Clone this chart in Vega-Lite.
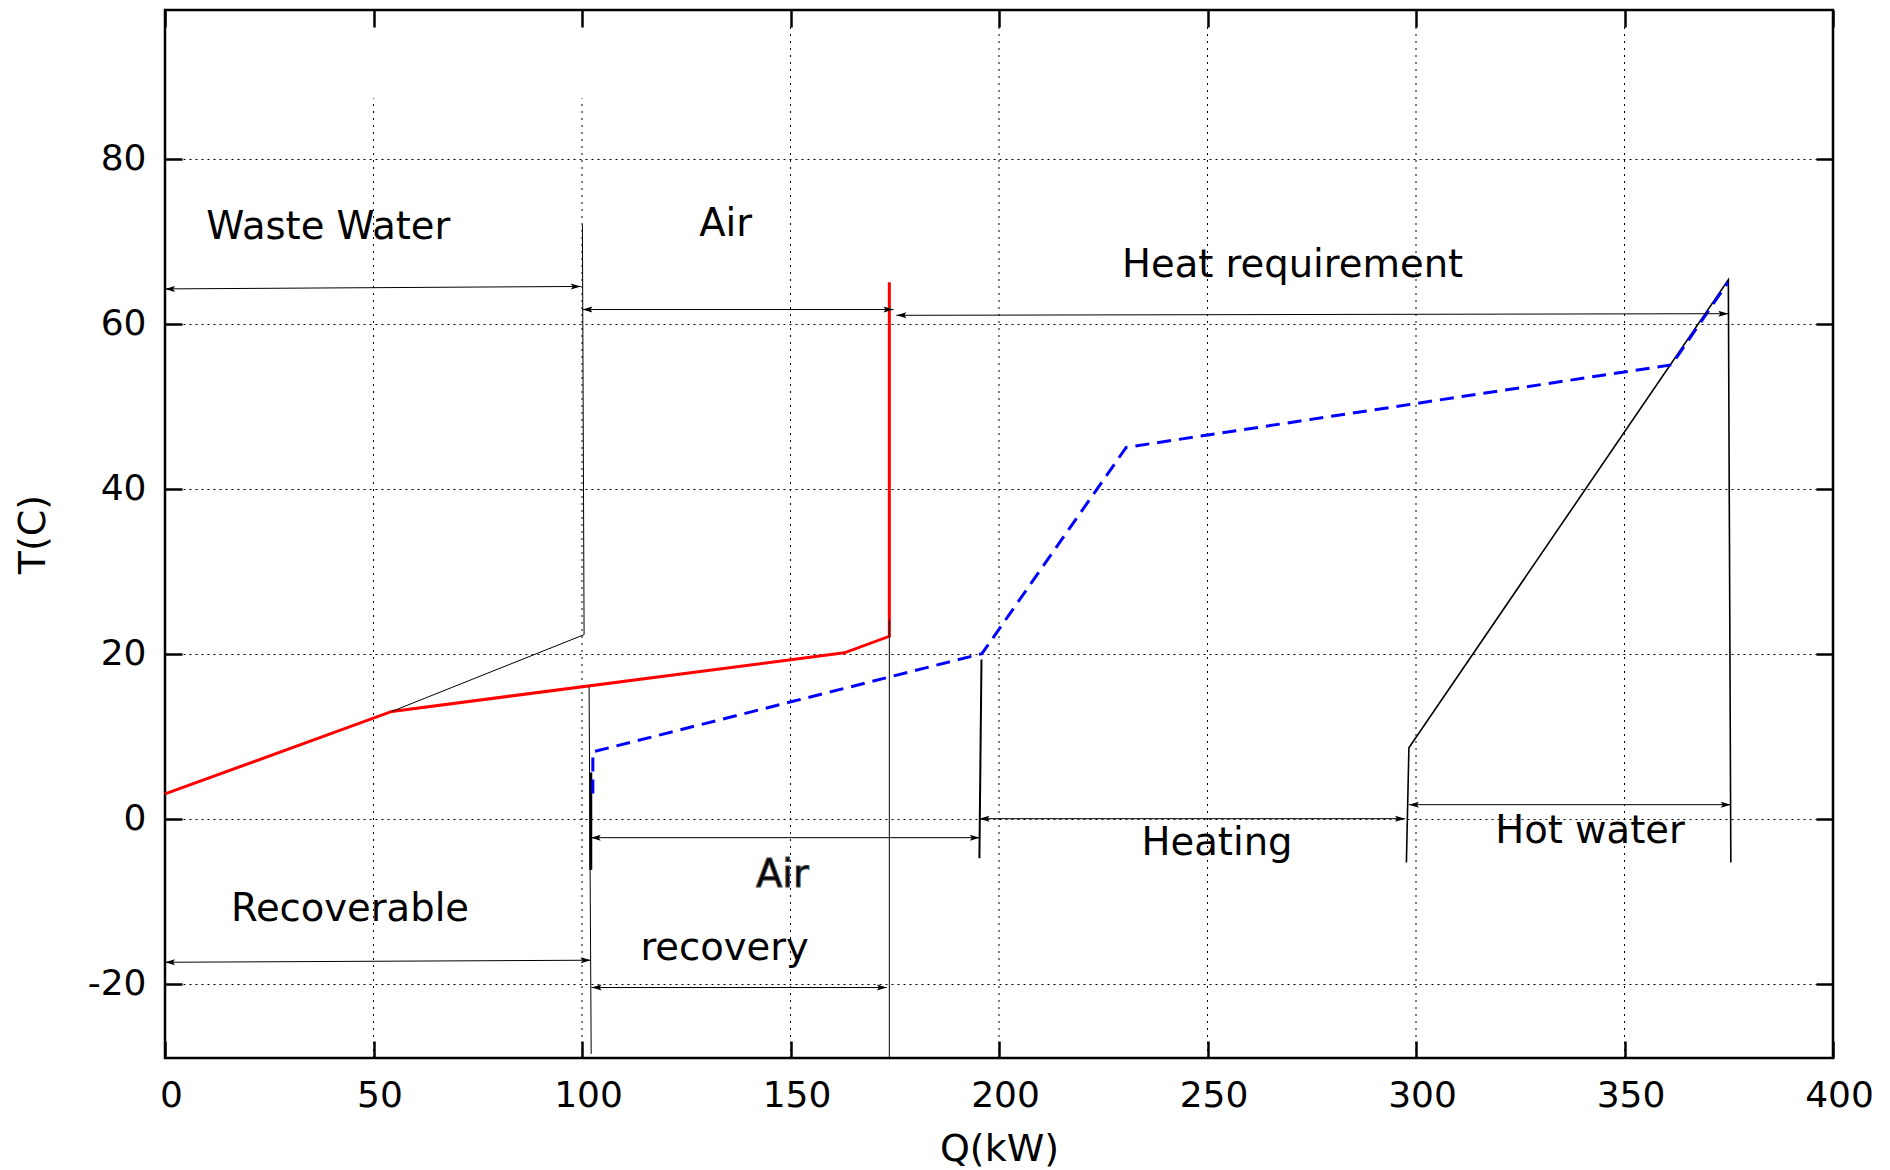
{
  "$schema": "https://vega.github.io/schema/vega-lite/v6.json",
  "width": 1668,
  "height": 1048,
  "autosize": {"type": "none"},
  "padding": {"left": 165, "top": 10, "right": 57, "bottom": 112},
  "background": "white",
  "config": {
    "view": {"stroke": "black", "strokeWidth": 2.5},
    "axis": {"labelFont": "DejaVu Sans", "titleFont": "DejaVu Sans", "labelColor": "black", "titleColor": "black", "tickColor": "black", "titleFontWeight": "normal", "domain": false, "labelFlush": false, "labelOverlap": false}
  },
  "datasets": {
    "vgrid": [
      {"q": 50, "y1": -29, "y2": 87.3},
      {"q": 100, "y1": -29, "y2": 87.3},
      {"q": 150, "y1": -29, "y2": 96},
      {"q": 200, "y1": -29, "y2": 96},
      {"q": 250, "y1": -29, "y2": 96},
      {"q": 300, "y1": -29, "y2": 96},
      {"q": 350, "y1": -29, "y2": 96}
    ],
    "red": [
      {"o": 1, "q": 0, "t": 3},
      {"o": 2, "q": 54.4, "t": 13},
      {"o": 3, "q": 162.9, "t": 20.1},
      {"o": 4, "q": 173.7, "t": 22.1},
      {"o": 5, "q": 173.7, "t": 65}
    ],
    "blue": [
      {"o": 1, "q": 102.6, "t": 3.05},
      {"o": 2, "q": 102.6, "t": 8.1},
      {"o": 3, "q": 195.9, "t": 20},
      {"o": 4, "q": 230.5, "t": 45},
      {"o": 5, "q": 361.3, "t": 55},
      {"o": 6, "q": 374.8, "t": 65}
    ],
    "thin": [
      {"s": "ww", "o": 1, "q": 54.4, "t": 13},
      {"s": "ww", "o": 2, "q": 100.5, "t": 22.3},
      {"s": "ww", "o": 3, "q": 100.1, "t": 72},
      {"s": "v173", "o": 1, "q": 173.7, "t": 24.1},
      {"s": "v173", "o": 2, "q": 173.7, "t": -29},
      {"s": "v102", "o": 1, "q": 101.7, "t": 16},
      {"s": "v102", "o": 2, "q": 102.2, "t": -28.5}
    ],
    "hw": [
      {"o": 1, "q": 297.7, "t": -5.3},
      {"o": 2, "q": 298.3, "t": 8.6},
      {"o": 3, "q": 374.9, "t": 65.3},
      {"o": 4, "q": 375.5, "t": -5.3}
    ],
    "v195": [
      {"o": 1, "q": 195.8, "t": 19.3},
      {"o": 2, "q": 195.3, "t": -4.8}
    ],
    "v102b": [
      {"o": 1, "q": 102.1, "t": 5.6},
      {"o": 2, "q": 102.1, "t": -6.2}
    ],
    "arrows": [
      {"name": "Waste Water", "x1": 0, "y1": 64.2, "x2": 99.7, "y2": 64.5},
      {"name": "Air", "x1": 100.1, "y1": 61.7, "x2": 174.7, "y2": 61.7},
      {"name": "Heat requirement", "x1": 175.4, "y1": 61.0, "x2": 374.9, "y2": 61.2},
      {"name": "Recoverable", "x1": 0, "y1": -17.4, "x2": 102.1, "y2": -17.15},
      {"name": "Air recovery (upper)", "x1": 102.1, "y1": -2.3, "x2": 195.4, "y2": -2.3},
      {"name": "Heating", "x1": 195.3, "y1": 0, "x2": 297.4, "y2": 0},
      {"name": "Hot water", "x1": 298.3, "y1": 1.7, "x2": 375.5, "y2": 1.7},
      {"name": "Air recovery (lower)", "x1": 102.3, "y1": -20.46, "x2": 173.1, "y2": -20.46}
    ],
    "labels": [
      {"text": "Waste Water", "q": 9.9, "t": 70.2},
      {"text": "Air", "q": 128.1, "t": 70.6},
      {"text": "Heat requirement", "q": 229.5, "t": 65.6},
      {"text": "Recoverable", "q": 15.8, "t": -12.4},
      {"text": "recovery", "q": 114.0, "t": -17.15},
      {"text": "Heating", "q": 234.2, "t": -4.36},
      {"text": "Hot water", "q": 319.0, "t": -2.96}
    ],
    "boldlabels": [
      {"text": "Air", "q": 141.7, "t": -8.27}
    ]
  },
  "resolve": {"axis": {"x": "independent", "y": "independent"}},
  "layer": [
    {
      "data": {"name": "vgrid"},
      "mark": {"type": "rule", "color": "black", "strokeWidth": 1, "strokeDash": [2, 5]},
      "encoding": {
        "x": {"field": "q", "type": "quantitative", "scale": {"domain": [0, 400], "nice": false, "zero": false},
          "axis": {"orient": "bottom", "values": [0, 50, 100, 150, 200, 250, 300, 350, 400], "tickSize": -17, "tickWidth": 2.5, "labelFontSize": 36, "labelPadding": 37, "labelOffset": 6, "grid": false,
            "title": "Q(kW)", "titleFontSize": 38, "titleX": 834, "titleY": 102, "titleBaseline": "alphabetic", "titleAlign": "center", "titleAnchor": null}},
        "y": {"field": "y1", "type": "quantitative", "scale": {"domain": [-29, 98], "nice": false, "zero": false},
          "axis": {"orient": "left", "values": [-20, 0, 20, 40, 60, 80], "labelExpr": "toString(datum.value)", "tickSize": -17, "tickWidth": 2.5, "labelFontSize": 36, "labelPadding": 36, "grid": true, "gridColor": "black", "gridWidth": 1, "gridDash": [2, 4],
            "title": "T(C)", "titleFontSize": 38, "titleAngle": 270, "titleX": -121, "titleY": 524, "titleAlign": "center", "titleBaseline": "alphabetic"}},
        "y2": {"field": "y2"}
      }
    },
    {
      "data": {"name": "red"},
      "mark": {"type": "line", "color": "#ff0000", "strokeWidth": 3},
      "encoding": {
        "x": {"field": "q", "type": "quantitative", "axis": {"orient": "top", "values": [0, 50, 100, 150, 200, 250, 300, 350, 400], "tickSize": -17, "tickWidth": 2.5, "labels": false, "title": null, "grid": false}},
        "y": {"field": "t", "type": "quantitative", "axis": {"orient": "right", "values": [-20, 0, 20, 40, 60, 80], "tickSize": -17, "tickWidth": 2.5, "labels": false, "title": null, "grid": false}},
        "order": {"field": "o", "type": "quantitative"}
      }
    },
    {
      "data": {"name": "thin"},
      "mark": {"type": "line", "color": "black", "strokeWidth": 1},
      "encoding": {
        "x": {"field": "q", "type": "quantitative", "axis": null},
        "y": {"field": "t", "type": "quantitative", "axis": null},
        "detail": {"field": "s"},
        "order": {"field": "o", "type": "quantitative"}
      }
    },
    {
      "data": {"name": "hw"},
      "mark": {"type": "line", "color": "black", "strokeWidth": 1.6},
      "encoding": {
        "x": {"field": "q", "type": "quantitative", "axis": null},
        "y": {"field": "t", "type": "quantitative", "axis": null},
        "order": {"field": "o", "type": "quantitative"}
      }
    },
    {
      "data": {"name": "v195"},
      "mark": {"type": "line", "color": "black", "strokeWidth": 2},
      "encoding": {
        "x": {"field": "q", "type": "quantitative", "axis": null},
        "y": {"field": "t", "type": "quantitative", "axis": null},
        "order": {"field": "o", "type": "quantitative"}
      }
    },
    {
      "data": {"name": "v102b"},
      "mark": {"type": "line", "color": "black", "strokeWidth": 3},
      "encoding": {
        "x": {"field": "q", "type": "quantitative", "axis": null},
        "y": {"field": "t", "type": "quantitative", "axis": null},
        "order": {"field": "o", "type": "quantitative"}
      }
    },
    {
      "data": {"name": "blue"},
      "mark": {"type": "line", "color": "#0000ff", "strokeWidth": 3, "strokeDash": [14, 8]},
      "encoding": {
        "x": {"field": "q", "type": "quantitative", "axis": null},
        "y": {"field": "t", "type": "quantitative", "axis": null},
        "order": {"field": "o", "type": "quantitative"}
      }
    },
    {
      "data": {"name": "arrows"},
      "mark": {"type": "rule", "color": "black", "strokeWidth": 1},
      "encoding": {
        "x": {"field": "x1", "type": "quantitative", "axis": null},
        "x2": {"field": "x2"},
        "y": {"field": "y1", "type": "quantitative", "axis": null},
        "y2": {"field": "y2"}
      }
    },
    {
      "data": {"name": "arrows"},
      "mark": {"type": "point", "shape": "M0,0L2,-0.6L1.6,0L2,0.6Z", "filled": true, "color": "black", "size": 100, "strokeWidth": 0, "opacity": 1},
      "encoding": {
        "x": {"field": "x1", "type": "quantitative", "axis": null},
        "y": {"field": "y1", "type": "quantitative", "axis": null}
      }
    },
    {
      "data": {"name": "arrows"},
      "mark": {"type": "point", "shape": "M0,0L-2,-0.6L-1.6,0L-2,0.6Z", "filled": true, "color": "black", "size": 100, "strokeWidth": 0, "opacity": 1},
      "encoding": {
        "x": {"field": "x2", "type": "quantitative", "axis": null},
        "y": {"field": "y2", "type": "quantitative", "axis": null}
      }
    },
    {
      "data": {"name": "labels"},
      "mark": {"type": "text", "align": "left", "baseline": "alphabetic", "font": "DejaVu Sans", "fontSize": 38.5, "color": "black"},
      "encoding": {
        "x": {"field": "q", "type": "quantitative", "axis": null},
        "y": {"field": "t", "type": "quantitative", "axis": null},
        "text": {"field": "text"}
      }
    },
    {
      "data": {"name": "boldlabels"},
      "mark": {"type": "text", "align": "left", "baseline": "alphabetic", "font": "DejaVu Sans", "fontSize": 38.5, "color": "black", "stroke": "#444444", "strokeWidth": 1},
      "encoding": {
        "x": {"field": "q", "type": "quantitative", "axis": null},
        "y": {"field": "t", "type": "quantitative", "axis": null},
        "text": {"field": "text"}
      }
    }
  ]
}
